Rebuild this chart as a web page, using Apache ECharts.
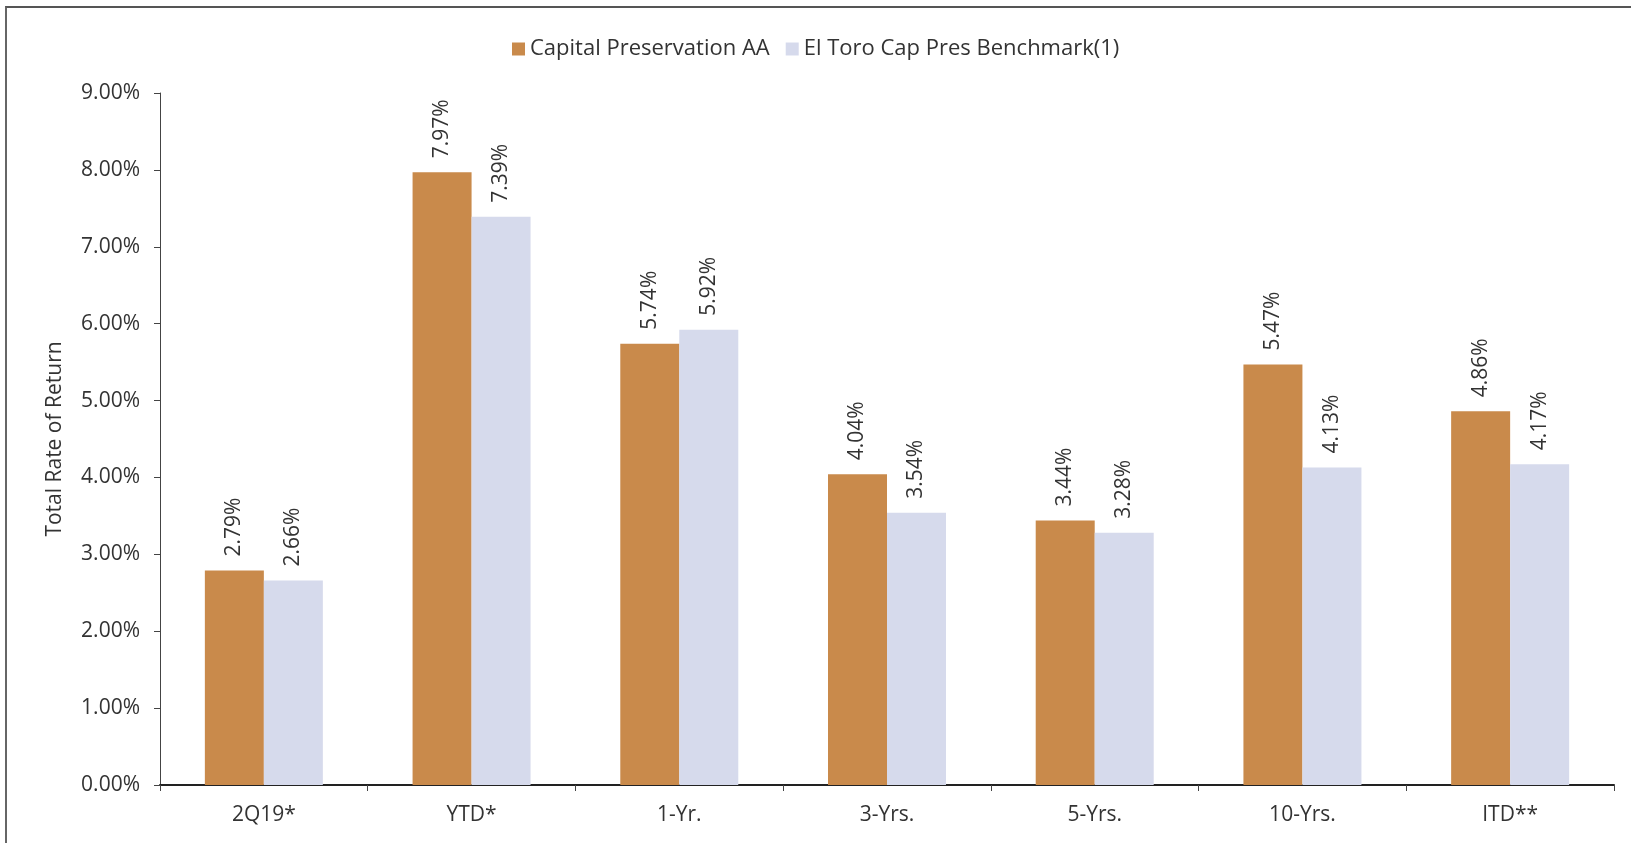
<!DOCTYPE html>
<html>
<head>
<meta charset="utf-8">
<script src="https://cdn.jsdelivr.net/npm/echarts@6/dist/echarts.min.js"></script>
<style>
  html, body { margin: 0; padding: 0; background: #fff; }
  #frame {
    position: absolute; left: 5px; top: 6px; right: 0; bottom: 0;
    border-top: 2px solid #555; border-left: 2px solid #666;
  }
  #chart { position: absolute; left: 0; top: 0; width: 1631px; height: 843px; }
</style>
</head>
<body>
<div id="frame"></div>
<div id="chart"></div>
<script>
// ============================================================================
// Data
// ============================================================================

const periods = ['2Q19*', 'YTD*', '1-Yr.', '3-Yrs.', '5-Yrs.', '10-Yrs.', 'ITD**']
const capitalPreservation = [2.79, 7.97, 5.74, 4.04, 3.44, 5.47, 4.86]
const elToroBenchmark = [2.66, 7.39, 5.92, 3.54, 3.28, 4.13, 4.17]
const seriesNames = ['Capital Preservation AA', 'El Toro Cap Pres Benchmark(1)']

// ============================================================================
// Chart
// ============================================================================

const _font = '"Open Sans", "Noto Sans", sans-serif'
const _fontSize = 21
const _textColor = '#333'

const _barLabel = {
    show: true,
    position: 'top',
    rotate: 90,
    align: 'left',
    verticalAlign: 'middle',
    distance: 14,
    fontFamily: _font,
    fontSize: _fontSize,
    color: _textColor,
    formatter: p => p.value.toFixed(2) + '%'
}

function renderChart() {
    const chart = echarts.init(document.getElementById('chart'))
    const option = {
        textStyle: {fontFamily: _font},
        animation: false,
        legend: {
            left: 507,
            top: 33,
            icon: 'rect',
            itemWidth: 13,
            itemHeight: 13,
            itemGap: 16,
            textStyle: {fontFamily: _font, fontSize: 22, color: _textColor},
            data: seriesNames
        },
        grid: {left: 160, right: 17, top: 93, bottom: 58},
        xAxis: {
            type: 'category',
            data: periods,
            axisLine: {lineStyle: {color: '#222', width: 2}},
            axisTick: {show: true, length: 6, lineStyle: {color: '#444'}},
            axisLabel: {fontFamily: _font, fontSize: _fontSize, color: _textColor, margin: 20}
        },
        yAxis: {
            type: 'value',
            min: 0,
            max: 9,
            interval: 1,
            name: 'Total Rate of Return',
            nameLocation: 'middle',
            nameGap: 94,
            nameTextStyle: {fontFamily: _font, fontSize: _fontSize, color: _textColor},
            axisLine: {show: true, lineStyle: {color: '#444', width: 1}},
            axisTick: {show: true, length: 6, lineStyle: {color: '#444'}},
            splitLine: {show: false},
            axisLabel: {
                fontFamily: _font, fontSize: _fontSize, color: _textColor, margin: 20,
                formatter: v => v.toFixed(2) + '%'
            }
        },
        series: [
            {
                name: seriesNames[0],
                type: 'bar',
                barWidth: 59,
                barGap: '0%',
                itemStyle: {color: '#C98A4B'},
                label: _barLabel,
                data: capitalPreservation
            },
            {
                name: seriesNames[1],
                type: 'bar',
                barWidth: 59,
                barGap: '0%',
                itemStyle: {color: '#D6DAEC'},
                label: _barLabel,
                data: elToroBenchmark
            }
        ]
    }
    chart.setOption(option)
}

renderChart()
</script>
</body>
</html>
